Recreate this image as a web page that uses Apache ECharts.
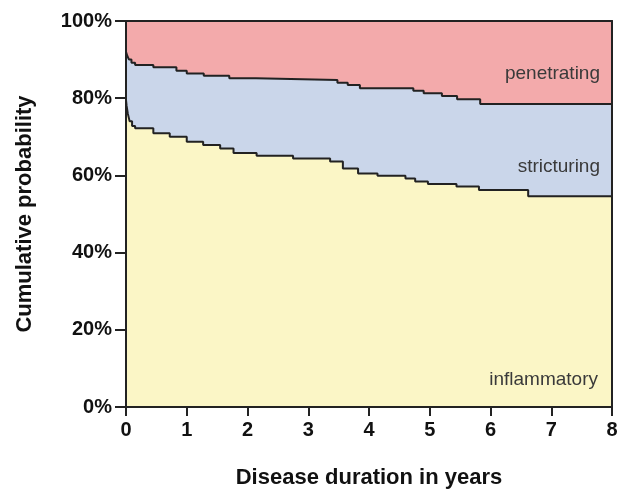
<!DOCTYPE html>
<html>
<head>
<meta charset="utf-8">
<script src="https://cdn.jsdelivr.net/npm/echarts@6/dist/echarts.min.js"></script>
<style>html,body{margin:0;padding:0;background:#fff}#c{width:619px;height:490px}</style>
</head>
<body>
<div id="c"></div>
<script>
// Disease duration (years) and cumulative probability (%) — step curves
const upperYears  = [0, 0.02, 0.05, 0.09, 0.15, 0.45, 0.83, 1.0, 1.28, 1.7, 2.14, 3.48, 3.65, 3.85, 4.73, 4.9, 5.2, 5.45, 5.83, 8];
const upperValues = [92.0, 91.0, 90.0, 89.2, 88.6, 88.0, 87.1, 86.4, 85.8, 85.2, 84.7, 84.0, 83.4, 82.6, 81.9, 81.3, 80.6, 79.7, 78.5, 78.5];
const lowerYears  = [0, 0.01, 0.03, 0.06, 0.1, 0.15, 0.45, 0.72, 1.0, 1.27, 1.55, 1.77, 2.15, 2.75, 3.36, 3.57, 3.82, 4.14, 4.6, 4.76, 4.97, 5.44, 5.81, 6.62, 8];
const lowerValues = [79.5, 78.0, 76.0, 74.0, 72.8, 72.2, 70.9, 70.0, 68.7, 67.9, 67.0, 65.8, 65.1, 64.4, 63.6, 61.8, 60.5, 59.9, 59.2, 58.4, 57.8, 57.1, 56.2, 54.6, 54.6];
const topYears = [0, 8];
const topValues = [100, 100];
const xTicks = [0, 1, 2, 3, 4, 5, 6, 7, 8];
const yTicks = [0, 20, 40, 60, 80, 100];
const categoryNames = ['penetrating', 'stricturing', 'inflammatory'];

const zip = (xs, ys) => xs.map((x, i) => [x, ys[i]]);
const FONT = 'Liberation Sans, Arial, sans-serif';

const chart = echarts.init(document.getElementById('c'), null, {renderer: 'canvas'});
chart.setOption({
  animation: false,
  backgroundColor: '#ffffff',
  grid: {left: 126, right: 7, top: 21, bottom: 83, containLabel: false, outerBoundsMode: 'none'},
  xAxis: [{
    type: 'value', min: xTicks[0], max: xTicks[xTicks.length - 1], interval: 1, z: 10,
    name: 'Disease duration in years', nameLocation: 'middle', nameGap: 60,
    nameTextStyle: {fontFamily: FONT, fontWeight: 'bold', fontSize: 22, color: '#111'},
    axisLine: {show: true, onZero: false, lineStyle: {color: '#222', width: 2}},
    axisTick: {show: true, inside: false, length: 9, lineStyle: {color: '#222', width: 2}},
    axisLabel: {fontFamily: FONT, fontWeight: 'bold', fontSize: 20, color: '#111', margin: 13},
    splitLine: {show: false}
  }, {
    type: 'value', position: 'top', min: 0, max: 8, z: 10,
    axisLine: {show: true, onZero: false, lineStyle: {color: '#222', width: 2}},
    axisTick: {show: false}, axisLabel: {show: false}, splitLine: {show: false}
  }],
  yAxis: [{
    type: 'value', min: yTicks[0], max: yTicks[yTicks.length - 1], interval: 20, z: 10,
    name: 'Cumulative probability', nameLocation: 'middle', nameGap: 90,
    nameTextStyle: {fontFamily: FONT, fontWeight: 'bold', fontSize: 22, color: '#111'},
    axisLine: {show: true, onZero: false, lineStyle: {color: '#222', width: 2}},
    axisTick: {show: true, inside: false, length: 11, lineStyle: {color: '#222', width: 2}},
    axisLabel: {fontFamily: FONT, fontWeight: 'bold', fontSize: 20, color: '#111', margin: 14, formatter: '{value}%'},
    splitLine: {show: false}
  }, {
    type: 'value', position: 'right', min: 0, max: 100, z: 10,
    axisLine: {show: true, onZero: false, lineStyle: {color: '#222', width: 2}},
    axisTick: {show: false}, axisLabel: {show: false}, splitLine: {show: false}
  }],
  series: [{
    name: categoryNames[0], type: 'line', step: 'end', symbol: 'none',
    data: zip(topYears, topValues),
    lineStyle: {width: 0}, areaStyle: {color: '#f3aaab', opacity: 1}, z: 2
  }, {
    name: categoryNames[1], type: 'line', step: 'end', symbol: 'none',
    data: zip(upperYears, upperValues),
    lineStyle: {color: '#222', width: 2}, areaStyle: {color: '#cad6ea', opacity: 1}, z: 3
  }, {
    name: categoryNames[2], type: 'line', step: 'end', symbol: 'none',
    data: zip(lowerYears, lowerValues),
    lineStyle: {color: '#222', width: 2}, areaStyle: {color: '#fbf6c6', opacity: 1}, z: 4
  }],
  graphic: [
    {type: 'text', right: 19, top: 64, z: 20, style: {text: categoryNames[0], font: '19px ' + FONT, fill: '#3a3a3a'}},
    {type: 'text', right: 19, top: 157, z: 20, style: {text: categoryNames[1], font: '19px ' + FONT, fill: '#3a3a3a'}},
    {type: 'text', right: 21, top: 370, z: 20, style: {text: categoryNames[2], font: '19px ' + FONT, fill: '#3a3a3a'}}
  ]
});
</script>
</body>
</html>
